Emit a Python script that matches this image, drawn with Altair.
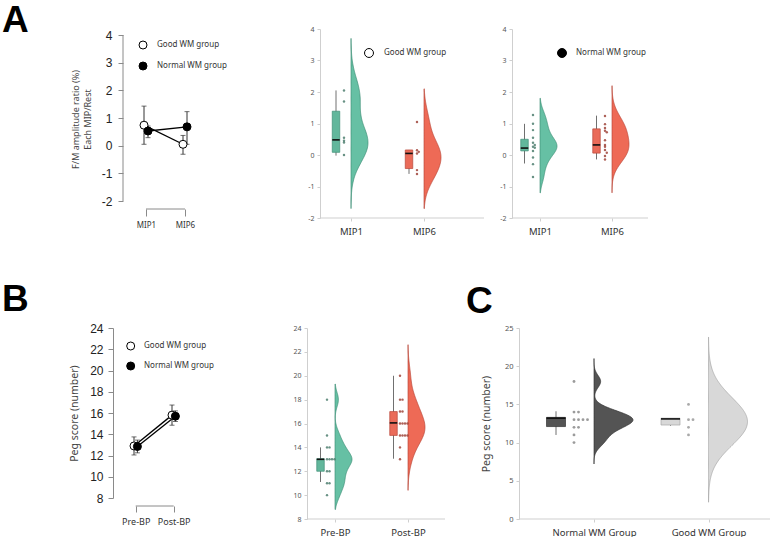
import json
import altair as alt
import pandas as pd

# ---------------- data ----------------
groups = ["Good WM group", "Normal WM group"]
A_conds = ["MIP1", "MIP6"]
B_conds = ["Pre-BP", "Post-BP"]
C_groups = ["Normal WM Group", "Good WM Group"]

# Panel A left: means and error-bar limits
A_good_mean = [0.74, 0.05]
A_good_lo = [0.05, -0.31]
A_good_hi = [1.43, 0.37]
A_norm_mean = [0.53, 0.68]
A_norm_lo = [0.29, 0.05]
A_norm_hi = [0.71, 1.23]

# Panel A middle (Good WM group) individual values
A_good_MIP1 = [2.05, 1.70, 0.55, 0.45, 0.40, 0.00]
A_good_MIP6 = [1.05, 0.15, 0.10, 0.05, -0.48, -0.60]
# Panel A right (Normal WM group) individual values
A_norm_MIP1 = [1.27, 0.99, 0.79, 0.55, 0.39, 0.32, 0.26, 0.23, 0.13, -0.08, -0.29, -0.70]
A_norm_MIP6 = [1.24, 0.98, 0.86, 0.77, 0.72, 0.47, 0.32, 0.26, 0.16, 0.07, -0.03, -0.14]
# box stats: whisker low, q1, median, q3, whisker high
A_good_MIP1_box = [-0.02, 0.085, 0.48, 1.39, 2.05]
A_good_MIP6_box = [-0.60, -0.43, 0.05, 0.16, 0.16]
A_norm_MIP1_box = [-0.27, 0.13, 0.22, 0.50, 0.99]
A_norm_MIP6_box = [-0.14, 0.06, 0.32, 0.83, 1.25]
# violin extents (value range of each cloud)
A_good_MIP1_ext = [-1.7, 3.7]
A_good_MIP6_ext = [-1.7, 2.1]
A_norm_MIP1_ext = [-1.2, 1.8]
A_norm_MIP6_ext = [-1.2, 2.2]

# Panel B left: means and error-bar limits
B_good_mean = [12.9, 15.8]
B_good_lo = [12.05, 14.85]
B_good_hi = [13.75, 16.75]
B_norm_mean = [12.85, 15.7]
B_norm_lo = [12.25, 15.2]
B_norm_hi = [13.45, 16.2]

# Panel B middle
B_pre = [18, 15, 14, 14, 13, 13, 13, 13, 12, 12, 11, 11, 10]
B_post = [20, 18, 18, 17, 17, 16, 16, 16, 16, 15, 15, 15, 15, 14, 13]
B_pre_box = [11.1, 12.0, 13.0, 13.05, 14.0]
B_post_box = [13.05, 15.0, 16.05, 17.0, 20.0]
B_pre_ext = [8.8, 19.3]
B_post_ext = [10.4, 22.6]

# Panel C
C_normal = [18, 14, 14, 13, 13, 13, 13, 12, 12, 11, 10]
C_good = [15, 13, 13, 12, 11]
C_normal_box = [11.0, 12.1, 13.2, 13.3, 14.1]
C_good_box = [12.2, 12.3, 13.1, 13.2, 13.2]
C_normal_ext = [7.2, 21.0]
C_good_ext = [2.2, 23.8]

# ---------------- styles ----------------
TEAL, TEAL_D, TEAL_BOX = "#66c0a4", "#3f8f77", "#62b79c"
RED, RED_D, RED_BOX = "#ee6a56", "#b9473a", "#ea6b59"
DGRAY, DGRAY_D = "#545454", "#333333"
LGRAY, LGRAY_D = "#d8d8d8", "#a8a8a8"
AXG = "#cfcfcf"
SANS = "Noto Sans"
ARIAL = "Liberation Sans"
MINUS = "replace(datum.label, '\u2212', '-')"


def lab_expr(names):
    return json.dumps(names).replace('"', "'") + "[datum.value]"


def lin_scale(left0_px, width_px, unit_px):
    d0 = -left0_px / unit_px
    return alt.Scale(domain=[d0, d0 + width_px / unit_px], nice=False, zero=False)


def letter(ch, x, y):
    return alt.Chart(pd.DataFrame({"t": [ch]})).mark_text(
        align="left", baseline="top", font=ARIAL, fontSize=37, fontWeight="bold", color="black"
    ).encode(text="t:N", x=alt.value(x), y=alt.value(y))


# ---------- mean / error-bar panel (A left, B left) ----------
def mean_panel(conds, gm, glo, ghi, nm, nlo, nhi, xs, ys, xaxis, yaxis, dodge, legend, own_yline, ytick_vals, bracket_y):
    rows = []
    for gi, (m, lo, hi) in enumerate([(gm, glo, ghi), (nm, nlo, nhi)]):
        for ci in range(len(conds)):
            rows.append({"g": groups[gi], "gi": gi, "ci": ci, "mean": m[ci], "lo": lo[ci], "hi": hi[ci]})
    df = pd.DataFrame(rows)
    base = alt.Chart(df).transform_calculate(xd=f"datum.ci + (datum.gi * 2 - 1) * {dodge}")
    X = alt.X("xd:Q", scale=xs, axis=xaxis)
    layers = []
    if own_yline:
        layers.append(
            alt.Chart(pd.DataFrame({"y": [min(ytick_vals)], "y2": [max(ytick_vals)]}))
            .mark_rule(color="#8a8a8a", strokeWidth=1)
            .encode(x=alt.value(0), y=alt.Y("y:Q", scale=ys, axis=yaxis), y2="y2:Q")
        )
    layers.append(
        alt.Chart(pd.DataFrame({"x": [0], "x2": [len(conds) - 1]}))
        .mark_rule(color="#8a8a8a", strokeWidth=1)
        .encode(x=alt.X("x:Q", scale=xs, axis=xaxis), x2="x2:Q", y=alt.value(bracket_y))
    )
    Y = alt.Y("mean:Q", scale=ys, axis=yaxis)
    layers += [
        base.mark_rule(color="#333", strokeWidth=1).encode(x=X, y=alt.Y("lo:Q", scale=ys, axis=yaxis), y2="hi:Q"),
        base.mark_tick(orient="horizontal", size=5, thickness=1, color="#333").encode(x=X, y=alt.Y("lo:Q", scale=ys, axis=yaxis)),
        base.mark_tick(orient="horizontal", size=5, thickness=1, color="#333").encode(x=X, y=alt.Y("hi:Q", scale=ys, axis=yaxis)),
        base.mark_line(color="black", strokeWidth=1.3).encode(x=X, y=Y, detail="g:N", order="ci:Q"),
        base.mark_point(filled=True, shape="circle", size=64, stroke="black", strokeWidth=1, opacity=1).encode(
            x=X, y=Y,
            fill=alt.Fill("g:N", scale=alt.Scale(domain=groups, range=["white", "black"]), legend=legend),
        ),
    ]
    return layers


def legend_cfg(x, y, offset, rowpad, size=64):
    return alt.Legend(
        title=None, orient="none", legendX=x, legendY=y, symbolType="circle", symbolSize=size,
        symbolStrokeWidth=1, symbolStrokeColor="black", labelFont=SANS, labelFontSize=8,
        labelColor="#333", labelOffset=offset, rowPadding=rowpad, padding=0,
    )


# ---------- raincloud ----------
def rain(ci, vals, box, ext, bw, G, fill, edge, boxfill, boxedge, ptcol, ptbin):
    u = G["unit"]
    xs, ys, xa, ya = G["xs"], G["ys"], G["xa"], G["ya"]
    df = pd.DataFrame({"v": vals})
    half = G["half"] / u
    viol = (
        alt.Chart(df)
        .transform_density("v", as_=["v", "dens"], bandwidth=bw, extent=ext, steps=160)
        .transform_joinaggregate(mx="max(dens)")
        .transform_calculate(xv=f"{ci} + datum.dens / datum.mx * {half}", x0=f"{ci}")
        .mark_area(orient="horizontal", fill=fill, stroke=edge, strokeWidth=0.7, opacity=1)
        .encode(y=alt.Y("v:Q", scale=ys, axis=ya), x=alt.X("xv:Q", scale=xs, axis=xa), x2="x0:Q")
    )
    bdf = pd.DataFrame({"lo": [box[0]], "q1": [box[1]], "med": [box[2]], "q3": [box[3]], "hi": [box[4]]})
    bx = ci + G["boff"] / u
    bh = G["bw"] / 2 / u
    bb = alt.Chart(bdf).transform_calculate(bx=f"{bx}", bl=f"{bx - bh}", br=f"{bx + bh}")
    whisk = bb.mark_rule(color="#707070", strokeWidth=1).encode(
        x=alt.X("bx:Q", scale=xs, axis=xa), y=alt.Y("lo:Q", scale=ys, axis=ya), y2="hi:Q")
    rect = bb.mark_rect(fill=boxfill, stroke=boxedge, strokeWidth=0.7).encode(
        x=alt.X("bl:Q", scale=xs, axis=xa), x2="br:Q", y=alt.Y("q1:Q", scale=ys, axis=ya), y2="q3:Q")
    med = bb.mark_rule(color="#111", strokeWidth=1.6).encode(
        x=alt.X("bl:Q", scale=xs, axis=xa), x2="br:Q", y=alt.Y("med:Q", scale=ys, axis=ya))
    pts = (
        alt.Chart(df)
        .transform_calculate(vb=f"round(datum.v / {ptbin})")
        .transform_window(rn="row_number()", groupby=["vb"])
        .transform_calculate(xp=f"{ci} + ({G['poff']} + (datum.rn - 1) * {G['pgap']}) / {u}")
        .mark_circle(size=G["psize"], color=ptcol, opacity=0.85)
        .encode(x=alt.X("xp:Q", scale=xs, axis=xa), y=alt.Y("v:Q", scale=ys, axis=ya))
    )
    return [viol, whisk, rect, med, pts]


def rain_axes(names, yvals, yoffset=0, ylabsize=7, xlabsize=9.5, xpad=5, ytitle=None, tpad=8):
    xa = alt.Axis(values=list(range(len(names))), labelExpr=lab_expr(names), title=None, grid=False,
                  domain=False, tickColor=AXG, tickSize=3, labelFont=SANS,
                  labelFontSize=xlabsize, labelColor="#333", labelPadding=xpad, labelFlush=False,
                  labelOverlap=False)
    ya = alt.Axis(values=yvals, labelExpr=MINUS, grid=False, domainColor=AXG, tickColor=AXG, offset=yoffset,
                  tickSize=3, labelFont=SANS, labelFontSize=ylabsize, labelColor="#555", labelPadding=3,
                  title=ytitle if ytitle else None, titleFont=SANS, titleFontSize=10.5, titleFontWeight="normal",
                  titleColor="#444", titlePadding=tpad)
    return xa, ya


def baseline(x0, W, H):
    # x-axis line drawn from the (offset) y axis to the right edge of the panel
    return alt.Chart(pd.DataFrame({"a": [0]})).mark_rule(color=AXG, strokeWidth=1).encode(
        x=alt.value(x0), x2=alt.value(W), y=alt.value(H))


def legend_only(name, color, x, y, offset):
    return alt.Chart(pd.DataFrame({"g": []})).mark_point(
        filled=True, shape="circle", size=80, stroke="black", strokeWidth=1, opacity=1
    ).encode(fill=alt.Fill("g:N", scale=alt.Scale(domain=[name], range=[color]),
                           legend=legend_cfg(x, y, offset, 6, size=80)))


# layout (plot-area widths; columns share x positions)
COL1_W, COL2_W = 156, 177
A3_W, C_W = 136, 258

# ================= Panel A left =================
A1_H = 180
A1_yticks = [-2, -1, 0, 1, 2, 3, 4]
A1_xs = lin_scale(23, COL1_W, 39.0)
A1_ys = alt.Scale(domain=[-2.289, 4.217], nice=False, zero=False)
A1_xa = alt.Axis(values=[0, 1], labelExpr=lab_expr(A_conds), domain=False, tickSize=7, tickColor="#8a8a8a",
                 labelFont=SANS, labelFontSize=8, labelColor="#333", labelPadding=5, title=None, grid=False,
                 labelFlush=False, labelOverlap=False)
A1_ya = alt.Axis(values=A1_yticks, labelExpr=MINUS, domain=False, tickSize=5, tickColor="#8a8a8a",
                 labelFont=ARIAL, labelFontSize=12, labelColor="#222", labelPadding=6, grid=False,
                 title=["F/M amplitude ratio (%)", "Each MIP/Rest"], titleFont=SANS, titleFontSize=9,
                 titleLineHeight=12, titleFontWeight="normal", titleColor="#444", titlePadding=9)
A1_layers = mean_panel(A_conds, A_good_mean, A_good_lo, A_good_hi, A_norm_mean, A_norm_lo, A_norm_hi,
                       A1_xs, A1_ys, A1_xa, A1_ya, 2 / 39.0,
                       legend_cfg(15.5, 11.5, 9.5, 8), True, A1_yticks, A1_H)
A1 = alt.layer(*A1_layers, letter("A", -121, -26)).properties(width=COL1_W, height=A1_H)

# ================= Panel A middle / right =================
A_yticks = [-2, -1, 0, 1, 2, 3, 4]
A_ys = alt.Scale(domain=[-2, 4], nice=False, zero=False)
xa2, ya2 = rain_axes(A_conds, A_yticks, yoffset=-13)
G2 = dict(unit=73.0, xs=lin_scale(44, COL2_W, 73.0), ys=A_ys, xa=xa2, ya=ya2, half=17, boff=-15, bw=7.5,
          poff=-7, pgap=1.8, psize=6)
A2 = alt.layer(
    baseline(13, COL2_W, 189),
    *rain(0, A_good_MIP1, A_good_MIP1_box, A_good_MIP1_ext, 0.55, G2, TEAL, TEAL_D, TEAL_BOX, TEAL_D, "#4f7f70", 0.12),
    *rain(1, A_good_MIP6, A_good_MIP6_box, A_good_MIP6_ext, 0.45, G2, RED, RED_D, RED_BOX, RED_D, "#a0463c", 0.12),
    legend_only(groups[0], "white", 57, 19, 10),
).properties(width=COL2_W, height=189)

xa3, ya3 = rain_axes(A_conds, A_yticks)
G3 = dict(unit=72.0, xs=lin_scale(28, A3_W, 72.0), ys=A_ys, xa=xa3, ya=ya3, half=17, boff=-15.5, bw=7.5,
          poff=-7, pgap=1.8, psize=6)
A3 = alt.layer(
    baseline(0, A3_W, 189),
    *rain(0, A_norm_MIP1, A_norm_MIP1_box, A_norm_MIP1_ext, 0.25, G3, TEAL, TEAL_D, TEAL_BOX, TEAL_D, "#4f7f70", 0.12),
    *rain(1, A_norm_MIP6, A_norm_MIP6_box, A_norm_MIP6_ext, 0.35, G3, RED, RED_D, RED_BOX, RED_D, "#a0463c", 0.12),
    legend_only(groups[1], "black", 45, 19, 9),
).properties(width=A3_W, height=189)

# ================= Panel B left =================
B1_W, B1_H = 110, 170
B1_yticks = [8, 10, 12, 14, 16, 18, 20, 22, 24]
B1_xs = lin_scale(12.7, B1_W, 38.0)
B1_ys = alt.Scale(domain=[8, 24], nice=False, zero=False)
B1_xa = alt.Axis(values=[0, 1], labelExpr=lab_expr(B_conds), domain=False, offset=8, tickSize=6,
                 tickColor="#8a8a8a", labelFont=SANS, labelFontSize=9, labelColor="#333", labelPadding=5,
                 title=None, grid=False, labelFlush=False, labelOverlap=False)
B1_ya = alt.Axis(values=B1_yticks, domain=True, offset=10, domainColor="#8a8a8a", tickSize=5,
                 tickColor="#8a8a8a", labelFont=ARIAL, labelFontSize=12, labelColor="#222", labelPadding=5,
                 grid=False, title="Peg score (number)", titleFont=SANS, titleFontSize=10.5,
                 titleFontWeight="normal", titleColor="#444", titlePadding=10)
B1_layers = mean_panel(B_conds, B_good_mean, B_good_lo, B_good_hi, B_norm_mean, B_norm_lo, B_norm_hi,
                       B1_xs, B1_ys, B1_xa, B1_ya, 1.7 / 38.0,
                       legend_cfg(3.2, 13.5, 8.8, 7), False, B1_yticks, B1_H + 8)
B1 = alt.layer(*B1_layers, letter("B", -121, -46.5)).properties(width=B1_W, height=B1_H)

# ================= Panel B middle =================
B_yticks = [8, 10, 12, 14, 16, 18, 20, 22, 24]
B2_W = 138
xab, yab = rain_axes(B_conds, B_yticks)
GB = dict(unit=73.0, xs=lin_scale(28, B2_W, 73.0), ys=alt.Scale(domain=[8, 24], nice=False, zero=False),
          xa=xab, ya=yab, half=17, boff=-14.5, bw=7.5, poff=-8, pgap=2.5, psize=6)
B2 = alt.layer(
    baseline(0, B2_W, 191),
    *rain(0, B_pre, B_pre_box, B_pre_ext, 0.6, GB, TEAL, TEAL_D, TEAL_BOX, TEAL_D, "#4f7f70", 0.5),
    *rain(1, B_post, B_post_box, B_post_ext, 1.0, GB, RED, RED_D, RED_BOX, RED_D, "#a0463c", 0.5),
).properties(width=B2_W, height=191)

# ================= Panel C =================
C_yticks = [0, 5, 10, 15, 20, 25]
xac, yac = rain_axes(C_groups, C_yticks, yoffset=-7, ylabsize=7.5, xlabsize=9.5, xpad=5,
                     ytitle="Peg score (number)", tpad=13)
GC = dict(unit=114.5, xs=lin_scale(82, C_W, 114.5), ys=alt.Scale(domain=[0, 25], nice=False, zero=False),
          xa=xac, ya=yac, half=39, boff=-38, bw=19, poff=-20, pgap=4.5, psize=8)
C = alt.layer(
    baseline(7, C_W, 191),
    *rain(0, C_normal, C_normal_box, C_normal_ext, 0.8, GC, DGRAY, DGRAY_D, DGRAY, DGRAY_D, "#8a8a8a", 0.5),
    *rain(1, C_good, C_good_box, C_good_ext, 2.8, GC, LGRAY, LGRAY_D, LGRAY, LGRAY_D, "#9a9a9a", 0.5),
    letter("C", -46, -44.5),
).properties(width=C_W, height=191)

chart = alt.concat(
    A1, A2, A3, B1, B2, C,
    columns=3, spacing={"row": 110, "column": 28}, bounds="flush",
).resolve_scale(fill="independent", x="independent", y="independent").resolve_legend(
    fill="independent"
).properties(
    padding={"left": 2, "top": 2, "right": 0, "bottom": 0}
).configure_view(stroke=None)

chart.save("out.html", embed_options={"renderer": "svg", "actions": False})
